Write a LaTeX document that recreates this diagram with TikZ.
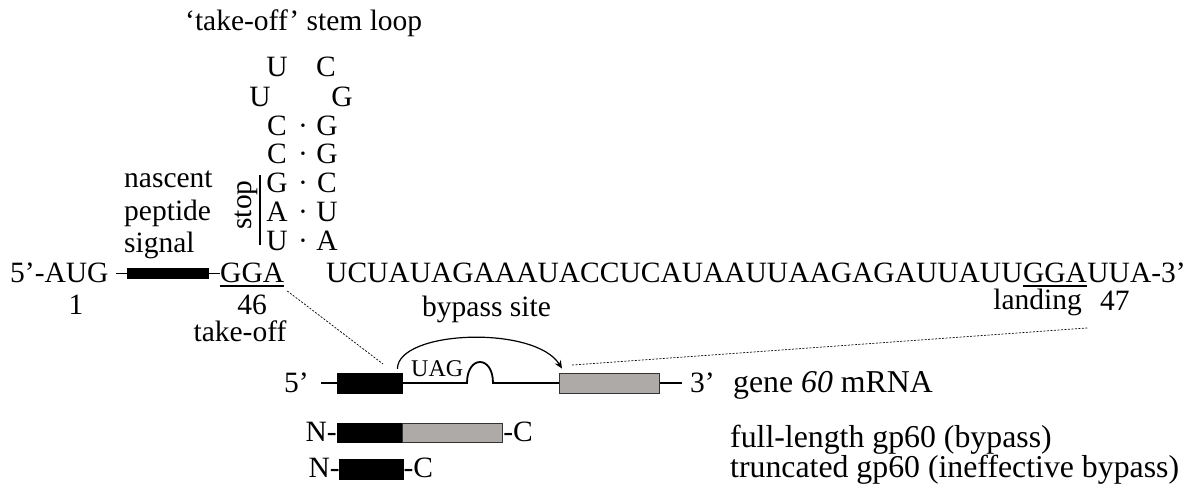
\documentclass[tikz,border=0pt]{standalone}
\usepackage{fontspec}
\setmainfont{Liberation Serif}
\usetikzlibrary{arrows.meta}
\definecolor{boxgray}{RGB}{174,170,168}
\tikzset{
  txt/.style={inner sep=0pt, font=\fontsize{29.5pt}{34pt}\selectfont},
  big/.style={inner sep=0pt, font=\fontsize{31.8pt}{36pt}\selectfont},
  small/.style={inner sep=0pt, font=\fontsize{24pt}{28pt}\selectfont},
  blackbox/.style={fill=black, draw=black, line width=0.4pt, inner sep=0pt, anchor=west},
  graybox/.style={fill=boxgray, draw=black!80, line width=0.8pt, inner sep=0pt, anchor=west},
  thinline/.style={line width=0.9pt},
  rnaline/.style={line width=1.8pt},
  dots/.style={line width=0.7pt, dash pattern=on 2pt off 1.5pt},
}
\begin{document}
\begin{tikzpicture}[x=1pt,y=-1pt]
\useasboundingbox (0,0) rectangle (1198,495);
% title
\node[txt, anchor=base west] (title) at (185,31) {‘take-off’ stem loop};
% stem loop
\node[txt, anchor=base] (l1) at (277,77) {U};
\node[txt, anchor=base] (r1) at (326,77) {C};
\node[txt, anchor=base] (l2) at (260,106) {U};
\node[txt, anchor=base] (r2) at (342,106) {G};
\node[txt, anchor=base] (l3) at (277,135) {C};
\node[txt, anchor=base] (d3) at (303,135) {·};
\node[txt, anchor=base] (r3) at (327,135) {G};
\node[txt, anchor=base] (l4) at (277,163) {C};
\node[txt, anchor=base] (d4) at (303,163) {·};
\node[txt, anchor=base] (r4) at (327,163) {G};
\node[txt, anchor=base] (l5) at (277,192) {G};
\node[txt, anchor=base] (d5) at (303,192) {·};
\node[txt, anchor=base] (r5) at (327,192) {C};
\node[txt, anchor=base] (l6) at (277,221) {A};
\node[txt, anchor=base] (d6) at (303,221) {·};
\node[txt, anchor=base] (r6) at (327,221) {U};
\node[txt, anchor=base] (l7) at (277,250) {U};
\node[txt, anchor=base] (d7) at (303,250) {·};
\node[txt, anchor=base] (r7) at (327,250) {A};
% stop bar
\coordinate (stopT) at (260,175);
\coordinate (stopB) at (260,245);
\draw[line width=1.2pt] (stopT) -- (stopB);
\node[txt, anchor=base, rotate=90] (stop) at (251,205) {stop};
% nascent peptide signal
\node[txt, anchor=base west] (nas) at (124,187) {nascent};
\node[txt, anchor=base west] (pep) at (124,220) {peptide};
\node[txt, anchor=base west] (sgn) at (124,252) {signal};
% main sequence line
\node[txt, anchor=base west] (aug) at (10,282) {5’-AUG};
\node[blackbox, minimum width=81pt, minimum height=10pt] (sig) at (127,273) {};
\node[txt, anchor=base west] (gga1) at (220,282) {GGA};
\draw[thinline] ([xshift=7pt]aug.east |- sig.west) -- (sig.west);
\draw[thinline] (sig.east) -- (sig.east -| gga1.west);
\draw[line width=2pt] ([yshift=-3.5pt]gga1.base west) -- ([yshift=-3.5pt]gga1.base east);
\node[txt, anchor=base west] (seq) at (326,282) {UCUAUAGAAAUACCUCAUAAUUAAGAGAUUAUU};
\node[txt, anchor=base west] (gga2) at (seq.base east) {GGA};
\node[txt, anchor=base west] (tail) at (gga2.base east) {UUA-3’};
\draw[line width=2pt] ([yshift=-3.5pt]gga2.base west) -- ([yshift=-3.5pt]gga2.base east);
\node[txt, anchor=base] (n1) at (76,314) {1};
\node[txt, anchor=base] (n46) at (252,314) {46};
\node[txt, anchor=base] (tko) at (240,341) {take-off};
\node[txt, anchor=base west] (byp) at (422,316) {bypass site};
\node[txt, anchor=base east] (land) at (1082,309) {landing};
\node[txt, anchor=base west] (n47) at (1100,310) {47};
% mRNA
\node[txt, anchor=base east] (m5) at (309,392) {5’};
\node[blackbox, minimum width=65pt, minimum height=20pt] (blk) at (337,383) {};
\node[graybox, minimum width=100pt, minimum height=20pt] (gry) at (559,383) {};
\node[txt, anchor=base west] (m3) at (690,392) {3’};
\node[big, anchor=base west] (gene) at (733,392) {gene \textit{60} mRNA};
\coordinate (l5s) at (321,383);
\coordinate (bumpL) at (467,383);
\coordinate (bumpR) at (493,383);
\coordinate (l3e) at (682,383);
\draw[rnaline] (l5s) -- (blk.west);
\draw[rnaline] (blk.east) -- (bumpL) .. controls (467,355) and (493,355) .. (bumpR) -- (gry.west);
\draw[rnaline] (gry.east) -- (l3e);
\node[small, anchor=base west] (uag) at (411,376) {UAG};
\draw[line width=1.2pt, -{Stealth[length=8pt,width=7pt]}]
  ([xshift=-5pt,yshift=4pt]blk.north east) .. controls (398,330) and (535,325) .. ([xshift=3pt,yshift=4pt]gry.north west);
% dotted zoom lines
\coordinate (z1) at (383,364);
\coordinate (z2) at (572,365);
\draw[dots] ([xshift=3pt,yshift=-9pt]gga1.base east) -- (z1);
\draw[dots] ([yshift=-46pt]gga2.base east) -- (z2);
% proteins
\node[blackbox, minimum width=65pt, minimum height=19pt] (p1b) at (337,432.5) {};
\node[graybox, minimum width=100pt, minimum height=19pt] (p1g) at (p1b.east) {};
\node[txt, anchor=base east] (p1n) at (p1b.west |- 0,441) {N-};
\node[txt, anchor=base west] (p1c) at (p1g.east |- 0,441) {-C};
\node[blackbox, minimum width=64pt, minimum height=20pt] (p2b) at (339,469) {};
\node[txt, anchor=base east] (p2n) at ([xshift=1pt]p2b.west |- 0,477) {N-};
\node[txt, anchor=base west] (p2c) at (p2b.east |- 0,477) {-C};
\node[big, anchor=base west] (full) at (730,447) {full-length gp60 (bypass)};
\node[big, anchor=base west] (trunc) at (730,477) {truncated gp60 (ineffective bypass)};
\end{tikzpicture}
\end{document}
